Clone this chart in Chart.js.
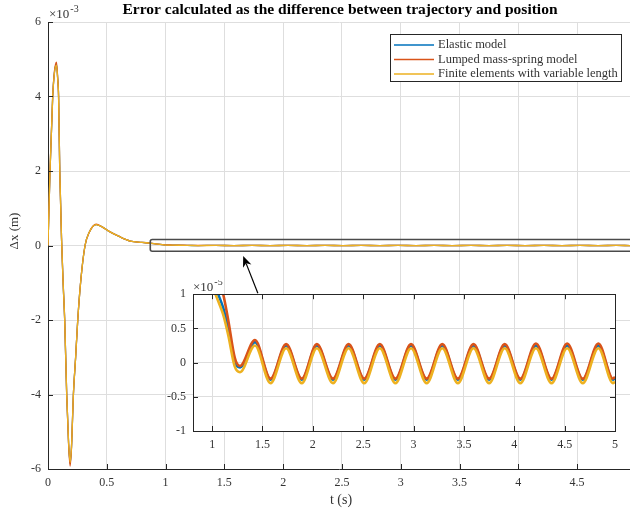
<!DOCTYPE html>
<html lang="en">
<head>
<meta charset="UTF-8">
<title>Error calculated as the difference between trajectory and position</title>
<script src="https://cdn.jsdelivr.net/npm/chart.js@4"></script>
<style>
  html, body { margin: 0; padding: 0; background: #fff; overflow: hidden; }
  #wrap { position: relative; width: 630px; height: 512px; }
  #mainChart { position: absolute; left: 0; top: 0; }
  #insetChart { position: absolute; left: 150px; top: 280px; }
</style>
</head>
<body>
<div id="wrap">
  <canvas id="mainChart" width="630" height="512"></canvas>
  <canvas id="insetChart" width="480" height="180"></canvas>
</div>
<script>
  // ---- data ----
  const seriesNames = ['Elastic model', 'Lumped mass-spring model', 'Finite elements with variable length'];
  const seriesColors = ['#0072BD', '#D95319', '#EDB120'];

  // first second, error in units of 1e-3 m
  const tStart = [0, 0.017, 0.04, 0.055, 0.072, 0.082, 0.09, 0.1, 0.117, 0.13, 0.142, 0.159, 0.175, 0.188, 0.2, 0.216, 0.235, 0.253, 0.28, 0.315, 0.35, 0.41, 0.46, 0.52, 0.6, 0.7, 0.8, 0.9];
  const elasticStart = [0, 2.0, 4.0, 4.65, 4.87, 4.5, 4.0, 2.0, 0, -1.1, -2.0, -4.0, -5.3, -5.85, -5.4, -4.0, -3.0, -2.0, -0.9, 0, 0.35, 0.56, 0.5, 0.38, 0.25, 0.12, 0.085, 0.05];
  const lumpedStart = [0, 2.0, 4.0, 4.68, 4.92, 4.52, 4.0, 2.0, 0, -1.1, -2.0, -4.0, -5.32, -5.92, -5.42, -4.0, -3.0, -2.0, -0.9, 0, 0.35, 0.57, 0.5, 0.38, 0.25, 0.12, 0.085, 0.05];
  const finiteStart = [0, 2.0, 4.0, 4.63, 4.84, 4.48, 4.0, 2.0, 0, -1.1, -2.0, -4.0, -5.28, -5.82, -5.38, -4.0, -3.0, -2.0, -0.9, 0, 0.35, 0.56, 0.5, 0.38, 0.25, 0.12, 0.085, 0.05];

  // from 1 s on, error in units of 1e-5 m (descent, then peaks and troughs)
  const tEnd = [1.0, 1.06, 1.11, 1.16, 1.225, 1.277, 1.425, 1.58,
    1.735, 1.89, 2.04, 2.2, 2.355, 2.51, 2.665, 2.82, 2.975, 3.13, 3.285,
    3.44, 3.595, 3.75, 3.905, 4.06, 4.215, 4.37, 4.525, 4.68, 4.835, 4.98, 5.0];
  const elasticEnd = [1.25, 1.0, 0.8, 0.5, 0.0, -0.07, 0.30, -0.25,
    0.25, -0.25, 0.25, -0.25, 0.25, -0.25, 0.25, -0.25, 0.25, -0.25, 0.25,
    -0.25, 0.25, -0.25, 0.25, -0.25, 0.25, -0.25, 0.25, -0.25, 0.25, -0.25, -0.23];
  const lumpedEnd = [1.6, 1.25, 1.0, 0.62, 0.07, -0.05, 0.33, -0.235,
    0.27, -0.235, 0.27, -0.235, 0.27, -0.235, 0.27, -0.235, 0.27, -0.235, 0.27,
    -0.235, 0.27, -0.235, 0.27, -0.235, 0.28, -0.235, 0.28, -0.235, 0.28, -0.235, -0.21];
  const finiteEnd = [1.12, 0.9, 0.7, 0.4, -0.06, -0.14, 0.25, -0.30,
    0.21, -0.30, 0.21, -0.30, 0.21, -0.30, 0.21, -0.30, 0.21, -0.30, 0.21,
    -0.30, 0.21, -0.30, 0.21, -0.30, 0.21, -0.30, 0.21, -0.30, 0.21, -0.30, -0.28];

  const mainXTicks = [0, 0.5, 1, 1.5, 2, 2.5, 3, 3.5, 4, 4.5];
  const mainYTicks = [-6, -4, -2, 0, 2, 4, 6];
  const insetXTicks = [1, 1.5, 2, 2.5, 3, 3.5, 4, 4.5, 5];
  const insetYTicks = [-1, -0.5, 0, 0.5, 1];

  const startSeries = [elasticStart, lumpedStart, finiteStart];
  const endSeries = [elasticEnd, lumpedEnd, finiteEnd];
  const E5_TO_E3 = 0.01; // 1e-5 m expressed in 1e-3 m

  const FONT = "'Liberation Serif', 'Times New Roman', serif";
  const AXIS = '#262626';
  const GRID = '#dedede';
  const LABEL = '#333';

  function pts(t, v, k) {
    return t.map((x, i) => ({ x: x, y: v[i] * k }));
  }

  function axis(min, max, ticks, size) {
    return {
      type: 'linear', min: min, max: max,
      afterBuildTicks: s => { s.ticks = ticks.map(v => ({ value: v })); },
      afterFit: s => { if (s.isHorizontal()) s.height = size; else s.width = size; },
      ticks: { font: { family: FONT, size: 12 }, color: LABEL, padding: 7,
               autoSkip: false, maxRotation: 0, callback: v => String(v) },
      grid: { color: GRID, drawTicks: false },
      border: { color: AXIS, width: 1 }
    };
  }

  // small tick marks pointing into the plot, like the original
  function innerTicks(chart, sides) {
    const { ctx, chartArea: a, scales } = chart;
    ctx.save();
    ctx.strokeStyle = AXIS;
    ctx.lineWidth = 1;
    ctx.beginPath();
    scales.y.ticks.forEach(t => {
      const y = Math.round(scales.y.getPixelForValue(t.value)) + 0.5;
      if (sides.left) { ctx.moveTo(a.left, y); ctx.lineTo(a.left + 5, y); }
      if (sides.right) { ctx.moveTo(a.right, y); ctx.lineTo(a.right - 5, y); }
    });
    scales.x.ticks.forEach(t => {
      const x = Math.round(scales.x.getPixelForValue(t.value)) + 0.5;
      if (sides.bottom) { ctx.moveTo(x, a.bottom); ctx.lineTo(x, a.bottom - 5); }
      if (sides.top) { ctx.moveTo(x, a.top); ctx.lineTo(x, a.top + 5); }
    });
    ctx.stroke();
    ctx.restore();
  }

  function exponent(ctx, x, y, power) {
    ctx.save();
    ctx.fillStyle = LABEL;
    ctx.textAlign = 'left';
    ctx.textBaseline = 'alphabetic';
    ctx.font = '13px ' + FONT;
    ctx.fillText('\u00d710', x, y);
    const w = ctx.measureText('\u00d710').width;
    ctx.font = '10px ' + FONT;
    ctx.fillText(power, x + w + 1, y - 6);
    ctx.restore();
  }

  function datasets(useStart, lw) {
    return seriesNames.map((name, i) => ({
      label: name,
      data: useStart
        ? pts(tStart, startSeries[i], 1).concat(pts(tEnd, endSeries[i], E5_TO_E3))
        : pts(tEnd, endSeries[i], 1),
      borderColor: seriesColors[i],
      backgroundColor: seriesColors[i],
      borderWidth: lw,
      pointRadius: 0,
      showLine: true,
      order: 2 - i
    }));
  }

  const mainDecor = {
    id: 'mainDecor',
    afterDatasetsDraw(chart) {
      const { ctx, scales: { x, y } } = chart;
      // zoom box round the flat part of the curves
      const x0 = x.getPixelForValue(0.87), x1 = x.getPixelForValue(5.3);
      const y0 = y.getPixelForValue(0.16), y1 = y.getPixelForValue(-0.155);
      ctx.save();
      ctx.strokeStyle = '#4a4a4a';
      ctx.lineWidth = 1.6;
      ctx.beginPath();
      ctx.roundRect(x0, y0, x1 - x0, y1 - y0, 2);
      ctx.stroke();
      // arrow from the inset to the box
      const tx = x.getPixelForValue(1.66), ty = y.getPixelForValue(-0.28);
      const sx = x.getPixelForValue(1.785), sy = y.getPixelForValue(-1.28);
      const ang = Math.atan2(ty - sy, tx - sx);
      ctx.strokeStyle = '#000';
      ctx.fillStyle = '#000';
      ctx.lineWidth = 1.2;
      ctx.beginPath();
      ctx.moveTo(sx, sy);
      ctx.lineTo(tx - 8 * Math.cos(ang), ty - 8 * Math.sin(ang));
      ctx.stroke();
      ctx.beginPath();
      ctx.moveTo(tx, ty);
      ctx.lineTo(tx - 11 * Math.cos(ang) + 4.5 * Math.sin(ang), ty - 11 * Math.sin(ang) - 4.5 * Math.cos(ang));
      ctx.lineTo(tx - 8 * Math.cos(ang), ty - 8 * Math.sin(ang));
      ctx.lineTo(tx - 11 * Math.cos(ang) - 4.5 * Math.sin(ang), ty - 11 * Math.sin(ang) + 4.5 * Math.cos(ang));
      ctx.closePath();
      ctx.fill();
      ctx.restore();
    },
    afterDraw(chart) {
      const { ctx, chartArea: a } = chart;
      innerTicks(chart, { left: true, bottom: true });
      ctx.save();
      // title
      ctx.fillStyle = '#000';
      ctx.textAlign = 'center';
      ctx.textBaseline = 'middle';
      ctx.font = 'bold 15.5px ' + FONT;
      ctx.fillText('Error calculated as the difference between trajectory and position', 340, 10);
      // axis titles
      ctx.fillStyle = LABEL;
      ctx.font = '14px ' + FONT;
      ctx.fillText('t (s)', 341, 500);
      ctx.font = '13px ' + FONT;
      ctx.translate(15, 231);
      ctx.rotate(-Math.PI / 2);
      ctx.fillText('\u0394x (m)', 0, 0);
      ctx.restore();
      exponent(ctx, a.left + 1, 18, '-3');
      // legend
      ctx.save();
      ctx.fillStyle = '#fff';
      ctx.strokeStyle = AXIS;
      ctx.lineWidth = 1;
      ctx.fillRect(390.5, 34.5, 231, 47);
      ctx.strokeRect(390.5, 34.5, 231, 47);
      ctx.font = '12.5px ' + FONT;
      ctx.textAlign = 'left';
      ctx.textBaseline = 'middle';
      seriesNames.forEach((name, i) => {
        const ly = 45 + i * 14.5;
        ctx.strokeStyle = seriesColors[i];
        ctx.lineWidth = 1.3;
        ctx.beginPath();
        ctx.moveTo(394, ly);
        ctx.lineTo(434, ly);
        ctx.stroke();
        ctx.fillStyle = LABEL;
        ctx.fillText(name, 438, ly);
      });
      ctx.restore();
    }
  };

  const insetDecor = {
    id: 'insetDecor',
    beforeDraw(chart) {
      const { ctx, chartArea: a } = chart;
      ctx.save();
      ctx.fillStyle = '#fff';
      ctx.fillRect(a.left, a.top, a.right - a.left, a.bottom - a.top);
      ctx.restore();
    },
    afterDraw(chart) {
      const { ctx, chartArea: a } = chart;
      ctx.save();
      ctx.strokeStyle = AXIS;
      ctx.lineWidth = 1;
      ctx.strokeRect(Math.round(a.left) + 0.5, Math.round(a.top) + 0.5,
        Math.round(a.right - a.left), Math.round(a.bottom - a.top));
      ctx.restore();
      innerTicks(chart, { left: true, right: true, bottom: true, top: true });
      exponent(ctx, a.left, a.top - 3, '-5');
    }
  };

  new Chart(document.getElementById('mainChart'), {
    type: 'scatter',
    data: { datasets: datasets(true, 1.3) },
    options: {
      responsive: false,
      animation: false,
      layout: { padding: { top: 22, left: 0, right: 0, bottom: 0 } },
      elements: { line: { cubicInterpolationMode: 'monotone', capBezierPoints: false } },
      plugins: { legend: { display: false }, tooltip: { enabled: false } },
      scales: {
        x: axis(0, 4.95, mainXTicks, 43),
        y: axis(-6, 6, mainYTicks, 48)
      }
    },
    plugins: [mainDecor]
  });

  new Chart(document.getElementById('insetChart'), {
    type: 'scatter',
    data: { datasets: datasets(false, 2.6) },
    options: {
      responsive: false,
      animation: false,
      layout: { padding: { top: 14, left: 0, right: 15, bottom: 0 } },
      elements: { line: { cubicInterpolationMode: 'monotone', capBezierPoints: false } },
      plugins: { legend: { display: false }, tooltip: { enabled: false } },
      scales: {
        x: axis(0.81, 5, insetXTicks, 29),
        y: axis(-1, 1, insetYTicks, 43)
      }
    },
    plugins: [insetDecor]
  });
</script>
</body>
</html>
